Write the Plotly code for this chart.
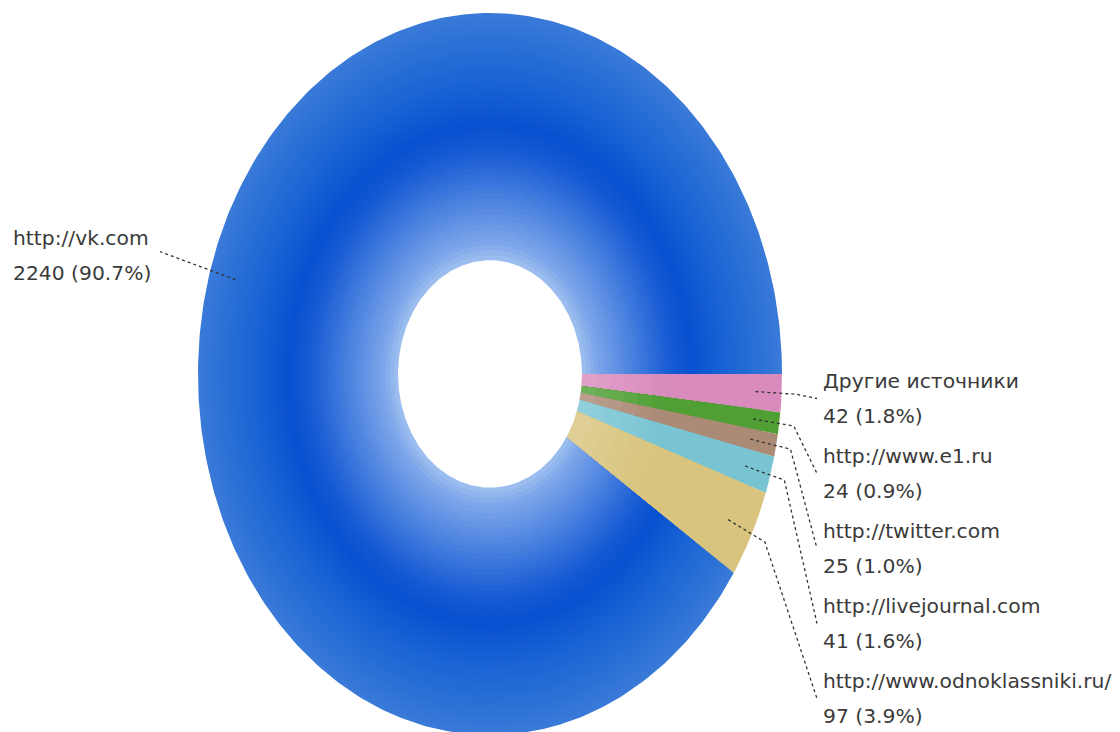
import numpy as np
import plotly.graph_objects as go

# ---- data ----
labels = ["Другие источники", "http://www.e1.ru", "http://twitter.com",
          "http://livejournal.com", "http://www.odnoklassniki.ru/", "http://vk.com"]
values = [42, 24, 25, 41, 97, 2240]
pct_text = ["1.8%", "0.9%", "1.0%", "1.6%", "3.9%", "90.7%"]
colors = ["#d98bbd", "#4f9f35", "#ab8a76", "#79c4d3", "#d8c47e", "#1a5fd4"]

# ---- layout constants (page pixel space; page body has an 8px margin) ----
PAGE_W, PAGE_H = 1120, 732
OFF = 8
CX, CY = 490, 374
RX, RY = 292, 361
HOLE = 0.315

# gradient for the big slice: (radius fraction, rgb)
vk_stops = [(0.315, (160, 192, 240)), (0.36, (128, 168, 234)), (0.43, (98, 146, 228)),
            (0.52, (60, 120, 220)), (0.62, (22, 90, 212)), (0.69, (8, 80, 208)),
            (0.80, (24, 98, 212)), (0.92, (44, 112, 214)), (1.0, (58, 122, 216))]


def hex2rgb(h):
    h = h.lstrip("#")
    return tuple(int(h[i:i + 2], 16) for i in (0, 2, 4))


def interp_stops(stops, f):
    for (f0, c0), (f1, c1) in zip(stops[:-1], stops[1:]):
        if f <= f1:
            t = (f - f0) / (f1 - f0) if f1 > f0 else 0
            t = min(max(t, 0), 1)
            return tuple(int(round(a + (b - a) * t)) for a, b in zip(c0, c1))
    return stops[-1][1]


def small_color(base, f):
    r, g, b = hex2rgb(base)
    w = max(0.0, (0.6 - f) / (0.6 - HOLE)) * 0.2
    return tuple(int(round(c + (255 - c) * w)) for c in (r, g, b))


def sector(a0, a1, r0, r1):
    n = max(8, int(abs(a1 - a0) * 1.2))
    th = np.radians(np.linspace(a0, a1, n))
    xo = CX + RX * r1 * np.cos(th)
    yo = CY + RY * r1 * np.sin(th)
    xi = CX + RX * r0 * np.cos(th[::-1])
    yi = CY + RY * r0 * np.sin(th[::-1])
    x = np.concatenate([xo, xi, xo[:1]])
    y = np.concatenate([yo, yi, yo[:1]])
    return x, y


total = sum(values)
bounds = np.concatenate([[0], np.cumsum(values)]) / total * 360.0

fig = go.Figure()

order = [5, 0, 1, 2, 3, 4]
for k in order:
    a0, a1 = bounds[k], bounds[k + 1]
    nb = 48 if k == 5 else 14
    for i in range(nb):
        r_out = 1.0 - (1.0 - HOLE) * i / nb
        fmid = r_out - (1.0 - HOLE) / nb / 2
        if k == 5:
            c = interp_stops(vk_stops, fmid)
        else:
            c = small_color(colors[k], fmid)
        x, y = sector(a0, a1, HOLE * 0.97, r_out)
        fig.add_trace(go.Scatter(x=x, y=y, mode="lines", fill="toself",
                                 fillcolor="rgb(%d,%d,%d)" % c,
                                 line=dict(width=0), hoverinfo="skip",
                                 showlegend=False))

# clean white hole
th = np.radians(np.linspace(0, 360, 400))
fig.add_trace(go.Scatter(x=CX + RX * HOLE * np.cos(th), y=CY + RY * HOLE * np.sin(th),
                         mode="lines", fill="toself", fillcolor="white",
                         line=dict(width=0), hoverinfo="skip", showlegend=False))

# ---- labels & leader lines ----
right_x = 821
right_top = [381, 456, 531, 606, 681]
gap = 35
txt_color = "#3a3a3a"
font = dict(family="DejaVu Sans", size=20.3, color=txt_color)

for k in range(6):
    mid = np.radians((bounds[k] + bounds[k + 1]) / 2)
    sx = CX + RX * 0.91 * np.cos(mid)
    sy = CY + RY * 0.91 * np.sin(mid)
    if k < 5:
        ex = CX + RX * 1.05 * np.cos(mid)
        ey = CY + RY * 1.05 * np.sin(mid)
        ty = right_top[k]
        lx = [sx, ex, right_x - 4]
        ly = [sy, ey, ty + gap / 2]
        tx, anchor = right_x, "left"
    else:
        ex = CX + RX * 1.18 * np.cos(mid)
        ey = CY + RY * 1.18 * np.sin(mid)
        lx, ly = [sx, ex], [sy, ey]
        tx, ty, anchor = 11, 238, "left"
    fig.add_trace(go.Scatter(x=lx, y=ly, mode="lines",
                             line=dict(color="#333333", width=1.3, dash="dot"),
                             hoverinfo="skip", showlegend=False))
    fig.add_annotation(x=tx, y=ty, xref="x", yref="y", text=labels[k],
                       showarrow=False, xanchor=anchor, yanchor="middle", font=font)
    fig.add_annotation(x=tx, y=ty + gap, xref="x", yref="y",
                       text="%d (%s)" % (values[k], pct_text[k]),
                       showarrow=False, xanchor=anchor, yanchor="middle", font=font)

fig.update_layout(
    width=PAGE_W - OFF, height=PAGE_H - OFF, margin=dict(l=0, r=0, t=0, b=0),
    paper_bgcolor="white", plot_bgcolor="white", showlegend=False,
    xaxis=dict(range=[OFF, PAGE_W], visible=False, fixedrange=True),
    yaxis=dict(range=[PAGE_H, OFF], visible=False, fixedrange=True),
)

fig.write_html("out.html")
